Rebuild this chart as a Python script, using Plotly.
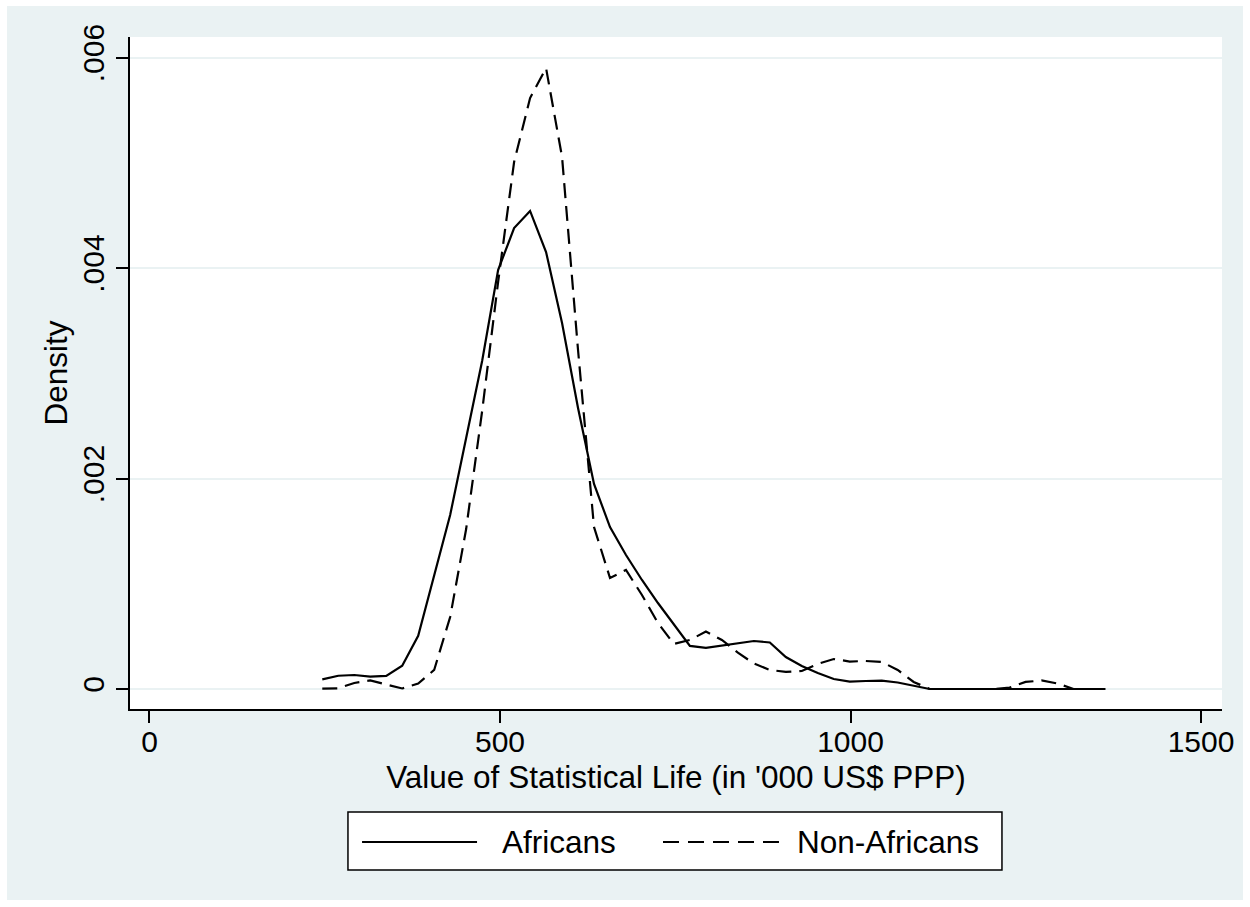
import plotly.graph_objects as go

# Evaluation grid ('000 US$ PPP)
vsl = [246.5, 269.3, 292.1, 314.9, 337.7, 360.5, 383.3, 406.1, 428.9, 451.7,
       474.5, 497.3, 520.1, 542.9, 565.7, 588.5, 611.3, 634.1, 656.9, 679.7,
       702.5, 725.3, 748.1, 770.9, 793.7, 816.5, 839.3, 862.1, 884.9, 907.7,
       930.5, 953.3, 976.1, 998.9, 1021.7, 1044.5, 1067.3, 1090.1, 1112.9, 1135.7,
       1158.5, 1181.3, 1204.1, 1226.9, 1249.7, 1272.5, 1295.3, 1318.1, 1340.9, 1363.7]

africans = [0.000092, 0.000126, 0.000133, 0.000117, 0.000124, 0.000221, 0.000506, 0.001067, 0.001653, 0.002385,
            0.003116, 0.003981, 0.004380, 0.004542, 0.004152, 0.003477, 0.002670, 0.001948, 0.001539, 0.001273,
            0.001036, 0.000817, 0.000618, 0.000409, 0.000390, 0.000413, 0.000437, 0.000456, 0.000442, 0.000304,
            0.000219, 0.000152, 0.000095, 0.000071, 0.000076, 0.000079, 0.000062, 0.000033, 0.0, 0.0,
            0.0, 0.0, 0.0, 0.0, 0.0, 0.0, 0.0, 0.0, 0.0, 0.0]

non_africans = [0.000003, 0.000007, 0.000057, 0.000081, 0.000043, 0.000005, 0.000052, 0.000181, 0.000684, 0.001520,
                0.002641, 0.003867, 0.005007, 0.005615, 0.005900, 0.005055, 0.003221, 0.001539, 0.001055, 0.001131,
                0.000893, 0.000627, 0.000428, 0.000466, 0.000546, 0.000466, 0.000345, 0.000242, 0.000181, 0.000162,
                0.000171, 0.000238, 0.000285, 0.000261, 0.000266, 0.000257, 0.000181, 0.000067, 0.0, 0.0,
                0.0, 0.0, 0.0, 0.000014, 0.000067, 0.000081, 0.000052, 0.0, 0.0, 0.0]

x_ticks = [0, 500, 1000, 1500]
x_ticktext = ["0", "500", "1000", "1500"]
y_ticks = [0, 0.002, 0.004, 0.006]
y_ticktext = ["0", ".002", ".004", ".006"]
series_names = ["Africans", "Non-Africans"]

FONT = "Liberation Sans, Arial, Helvetica, sans-serif"
BG = "#EAF2F3"
FS = 30      # tick labels
FT = 31.5    # titles and legend text

fig = go.Figure()
fig.add_trace(go.Scatter(x=vsl, y=africans, mode="lines", name=series_names[0],
                         line=dict(color="black", width=2.2), showlegend=False))
fig.add_trace(go.Scatter(x=vsl, y=non_africans, mode="lines", name=series_names[1],
                         line=dict(color="black", width=2.2, dash="15px,8px"), showlegend=False))

# background frame and white plot region
shapes = [
    dict(type="rect", xref="paper", yref="paper", x0=-0.1126, x1=1.0192, y0=-0.2842, y1=1.0461,
         fillcolor=BG, line=dict(width=0), layer="below"),
    dict(type="rect", xref="paper", yref="paper", x0=0, x1=1, y0=0, y1=1,
         fillcolor="white", line=dict(width=0), layer="below"),
    # legend box
    dict(type="rect", xref="paper", yref="paper", x0=0.1996, x1=0.7985, y0=-0.2396, y1=-0.1533,
         fillcolor="white", line=dict(color="black", width=1.5), layer="above"),
    dict(type="line", xref="paper", yref="paper", x0=0.2125, x1=0.3178, y0=-0.1979, y1=-0.1979,
         line=dict(color="black", width=2.2), layer="above"),
    dict(type="line", xref="paper", yref="paper", x0=0.4881, x1=0.5943, y0=-0.1979, y1=-0.1979,
         line=dict(color="black", width=2.2, dash="16px,9px"), layer="above"),
]

annotations = [
    dict(text=series_names[0], xref="paper", yref="paper", x=0.3388, y=-0.1979,
         xanchor="left", yanchor="middle", showarrow=False, font=dict(size=FT, color="black", family=FONT)),
    dict(text=series_names[1], xref="paper", yref="paper", x=0.6090, y=-0.1979,
         xanchor="left", yanchor="middle", showarrow=False, font=dict(size=FT, color="black", family=FONT)),
]

fig.update_layout(
    width=1250, height=907,
    margin=dict(l=130, r=28, t=37, b=198, pad=0),
    paper_bgcolor="white", plot_bgcolor="white",
    font=dict(family=FONT, size=FS, color="black"),
    shapes=shapes, annotations=annotations,
    showlegend=False,
)

fig.update_xaxes(
    range=[-27.8, 1529.9], tickvals=x_ticks, ticktext=x_ticktext,
    showgrid=False, zeroline=False,
    showline=True, linecolor="black", linewidth=1.5,
    ticks="outside", ticklen=12, tickwidth=1.5, tickcolor="black",
    tickfont=dict(size=FS, family=FONT, color="black"),
    ticklabelstandoff=-7,
    title=dict(text="Value of Statistical Life (in '000 US$ PPP)", font=dict(size=FT, family=FONT), standoff=9),
)
fig.update_yaxes(
    range=[-0.00019, 0.006195], tickvals=y_ticks, ticktext=y_ticktext,
    showgrid=True, gridcolor=BG, gridwidth=2, zeroline=False,
    showline=True, linecolor="black", linewidth=1.5,
    ticks="outside", ticklen=12, tickwidth=1.5, tickcolor="black",
    tickangle=-90,
    tickfont=dict(size=FS, family=FONT, color="black"),
    title=dict(text="Density", font=dict(size=FT, family=FONT), standoff=0),
)

fig.write_html("out.html", config={"displayModeBar": False},
               post_script="document.body.style.margin='0';")
